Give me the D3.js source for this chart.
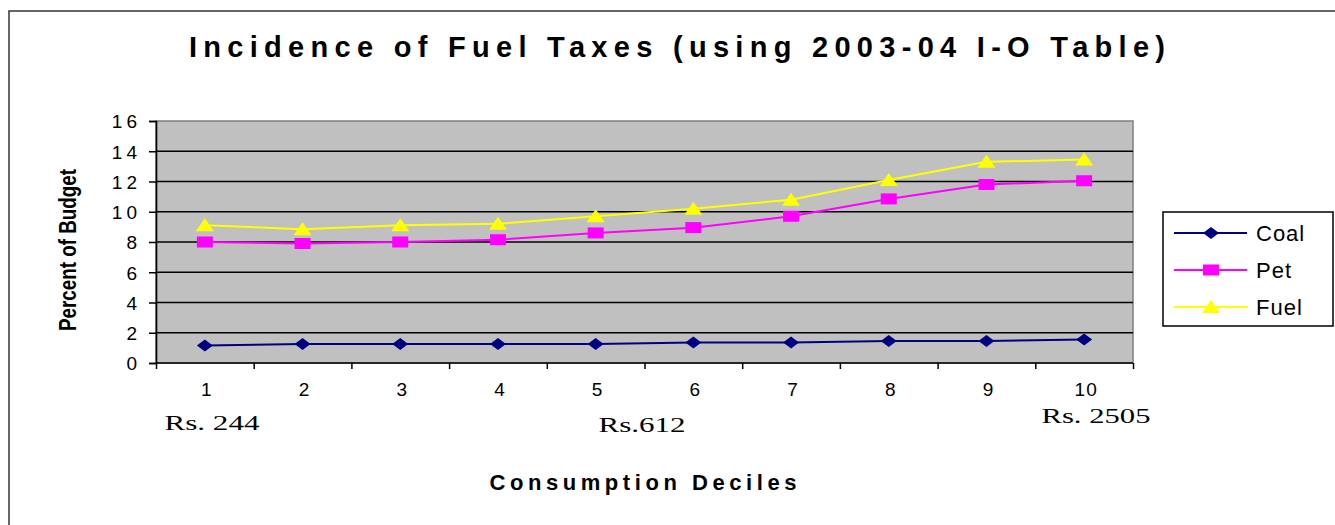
<!DOCTYPE html>
<html><head><meta charset="utf-8">
<script src="https://cdn.jsdelivr.net/npm/d3@7"></script>
<style>body{margin:0;background:#fff;} svg{display:block;}</style>
</head><body>
<svg id="chart" width="1335" height="525"></svg>
<script>
const categories = ["1","2","3","4","5","6","7","8","9","10"];
const coal = [1.15,1.25,1.25,1.25,1.25,1.35,1.35,1.45,1.45,1.55];
const pet  = [8.0,7.9,8.0,8.15,8.6,8.95,9.7,10.85,11.8,12.05];
const fuel = [9.1,8.85,9.1,9.2,9.7,10.2,10.8,12.1,13.3,13.45];
const yTicks = [0,2,4,6,8,10,12,14,16];
const seriesNames = ["Coal","Pet","Fuel"];
const seriesColors = ["#000080","#FF00FF","#FFFF00"];
const subLabels = [{cat:"1",text:"Rs. 244"},{cat:"5",text:"Rs.612"},{cat:"10",text:"Rs. 2505"}];

const svg = d3.select("#chart");
const L=156, R=1133, T=121, B=363;

// outer frame
svg.append("rect").attr("x",9).attr("y",11).attr("width",1340).attr("height",530)
  .attr("fill","#fff").attr("stroke","#333").attr("stroke-width",1.5);

const x = d3.scaleBand().domain(categories).range([L,R]);
const xi = d3.scaleLinear().domain([0,categories.length]).range([L,R]);
const y = d3.scaleLinear().domain([0,16]).range([B,T]);

// plot area
svg.append("rect").attr("x",L).attr("y",T).attr("width",R-L).attr("height",B-T)
  .attr("fill","#C0C0C0").attr("stroke","#808080").attr("stroke-width",1.5);

// gridlines
svg.append("g").selectAll("line").data(yTicks.filter(d=>d>0 && d<16)).join("line")
  .attr("x1",L).attr("x2",R).attr("y1",d=>y(d)).attr("y2",d=>y(d))
  .attr("stroke","#000").attr("stroke-width",1.6);

// y axis
const yAx = svg.append("g").attr("transform",`translate(${L},0)`)
  .call(d3.axisLeft(y).tickValues(yTicks).tickSize(7).tickPadding(8).tickFormat(d3.format("d")));
yAx.select(".domain").attr("stroke","#000").attr("stroke-width",1.6);
yAx.selectAll(".tick line").attr("stroke","#000").attr("stroke-width",1.5);
yAx.selectAll("text").attr("font-family","Liberation Sans, Arial, sans-serif")
  .attr("font-size",19).attr("letter-spacing","4px").attr("fill","#000").attr("dy","0.36em");

// x axis boundary ticks
const xAx = svg.append("g").attr("transform",`translate(0,${B})`)
  .call(d3.axisBottom(xi).tickValues(d3.range(0,categories.length+1)).tickSize(6).tickFormat(""));
xAx.select(".domain").attr("stroke","#000").attr("stroke-width",1.6).attr("d",`M${L},0H${R}`);
xAx.selectAll(".tick line").attr("stroke","#000").attr("stroke-width",1.5);

// x labels
const xLab = svg.append("g").attr("transform",`translate(2,${B})`)
  .call(d3.axisBottom(x).tickSize(0).tickPadding(20));
xLab.select(".domain").remove();
xLab.selectAll("text").attr("font-family","Liberation Sans, Arial, sans-serif")
  .attr("font-size",19).attr("fill","#000").attr("letter-spacing","1px");

// sub labels
const subPos = {"Rs. 244":[212,430,95],"Rs.612":[642,432,87],"Rs. 2505":[1096,423,109]};
svg.append("g").selectAll("text").data(subLabels).join("text")
  .attr("x",d=>x(d.cat)+x.bandwidth()/2 + (subPos[d.text][0]-(x(d.cat)+x.bandwidth()/2)))
  .attr("y",d=>subPos[d.text][1])
  .attr("text-anchor","middle")
  .attr("font-family","Liberation Serif, Times New Roman, serif").attr("font-size",20)
  .attr("textLength",d=>subPos[d.text][2]).attr("lengthAdjust","spacingAndGlyphs")
  .text(d=>d.text);

// markers
function markerPath(i){
  if(i===0) return "M-8,0L0,-6L8,0L0,6Z";
  if(i===1) return "M-8,-5.5H8V5.5H-8Z";
  return "M-9,6L0,-7L9,6Z";
}
const series = [coal,pet,fuel];
const line = d3.line().x((d,i)=>x(categories[i])+x.bandwidth()/2).y(d=>y(d));
series.forEach((s,si)=>{
  svg.append("path").datum(s).attr("d",line).attr("fill","none")
    .attr("stroke",seriesColors[si]).attr("stroke-width",2);
});
series.forEach((s,si)=>{
  svg.append("g").selectAll("path").data(s).join("path")
    .attr("transform",(d,i)=>`translate(${x(categories[i])+x.bandwidth()/2},${y(d)})`)
    .attr("d",markerPath(si)).attr("fill",seriesColors[si]);
});

// title
svg.append("text").attr("x",677).attr("y",57).attr("text-anchor","middle")
  .attr("font-family","Liberation Sans, Arial, sans-serif").attr("font-weight","bold")
  .attr("font-size",29).attr("textLength",976).attr("lengthAdjust","spacing")
  .text("Incidence of Fuel Taxes (using 2003-04 I-O Table)");

// axis titles
svg.append("text").attr("x",643).attr("y",490).attr("text-anchor","middle")
  .attr("font-family","Liberation Sans, Arial, sans-serif").attr("font-weight","bold")
  .attr("font-size",22).attr("textLength",307).attr("lengthAdjust","spacing")
  .text("Consumption Deciles");
svg.append("text").attr("transform","translate(76,250) rotate(-90)").attr("text-anchor","middle")
  .attr("font-family","Liberation Sans Narrow, Liberation Sans, Arial, sans-serif").attr("font-weight","bold")
  .attr("font-size",23).attr("textLength",162).attr("lengthAdjust","spacingAndGlyphs")
  .text("Percent of Budget");

// legend
const lg = svg.append("g");
lg.append("rect").attr("x",1163).attr("y",212).attr("width",170).attr("height",114)
  .attr("fill","#fff").attr("stroke","#000").attr("stroke-width",1.5);
const rowY = [233,270,307];
seriesNames.forEach((n,i)=>{
  lg.append("line").attr("x1",1174).attr("x2",1247).attr("y1",rowY[i]).attr("y2",rowY[i])
    .attr("stroke",seriesColors[i]).attr("stroke-width",2);
  lg.append("path").attr("transform",`translate(1211,${rowY[i]})`).attr("d",markerPath(i)).attr("fill",seriesColors[i]);
  lg.append("text").attr("x",1256).attr("y",rowY[i]+8)
    .attr("font-family","Liberation Sans, Arial, sans-serif").attr("font-size",22)
    .attr("letter-spacing","1px").text(n);
});
</script>
</body></html>
